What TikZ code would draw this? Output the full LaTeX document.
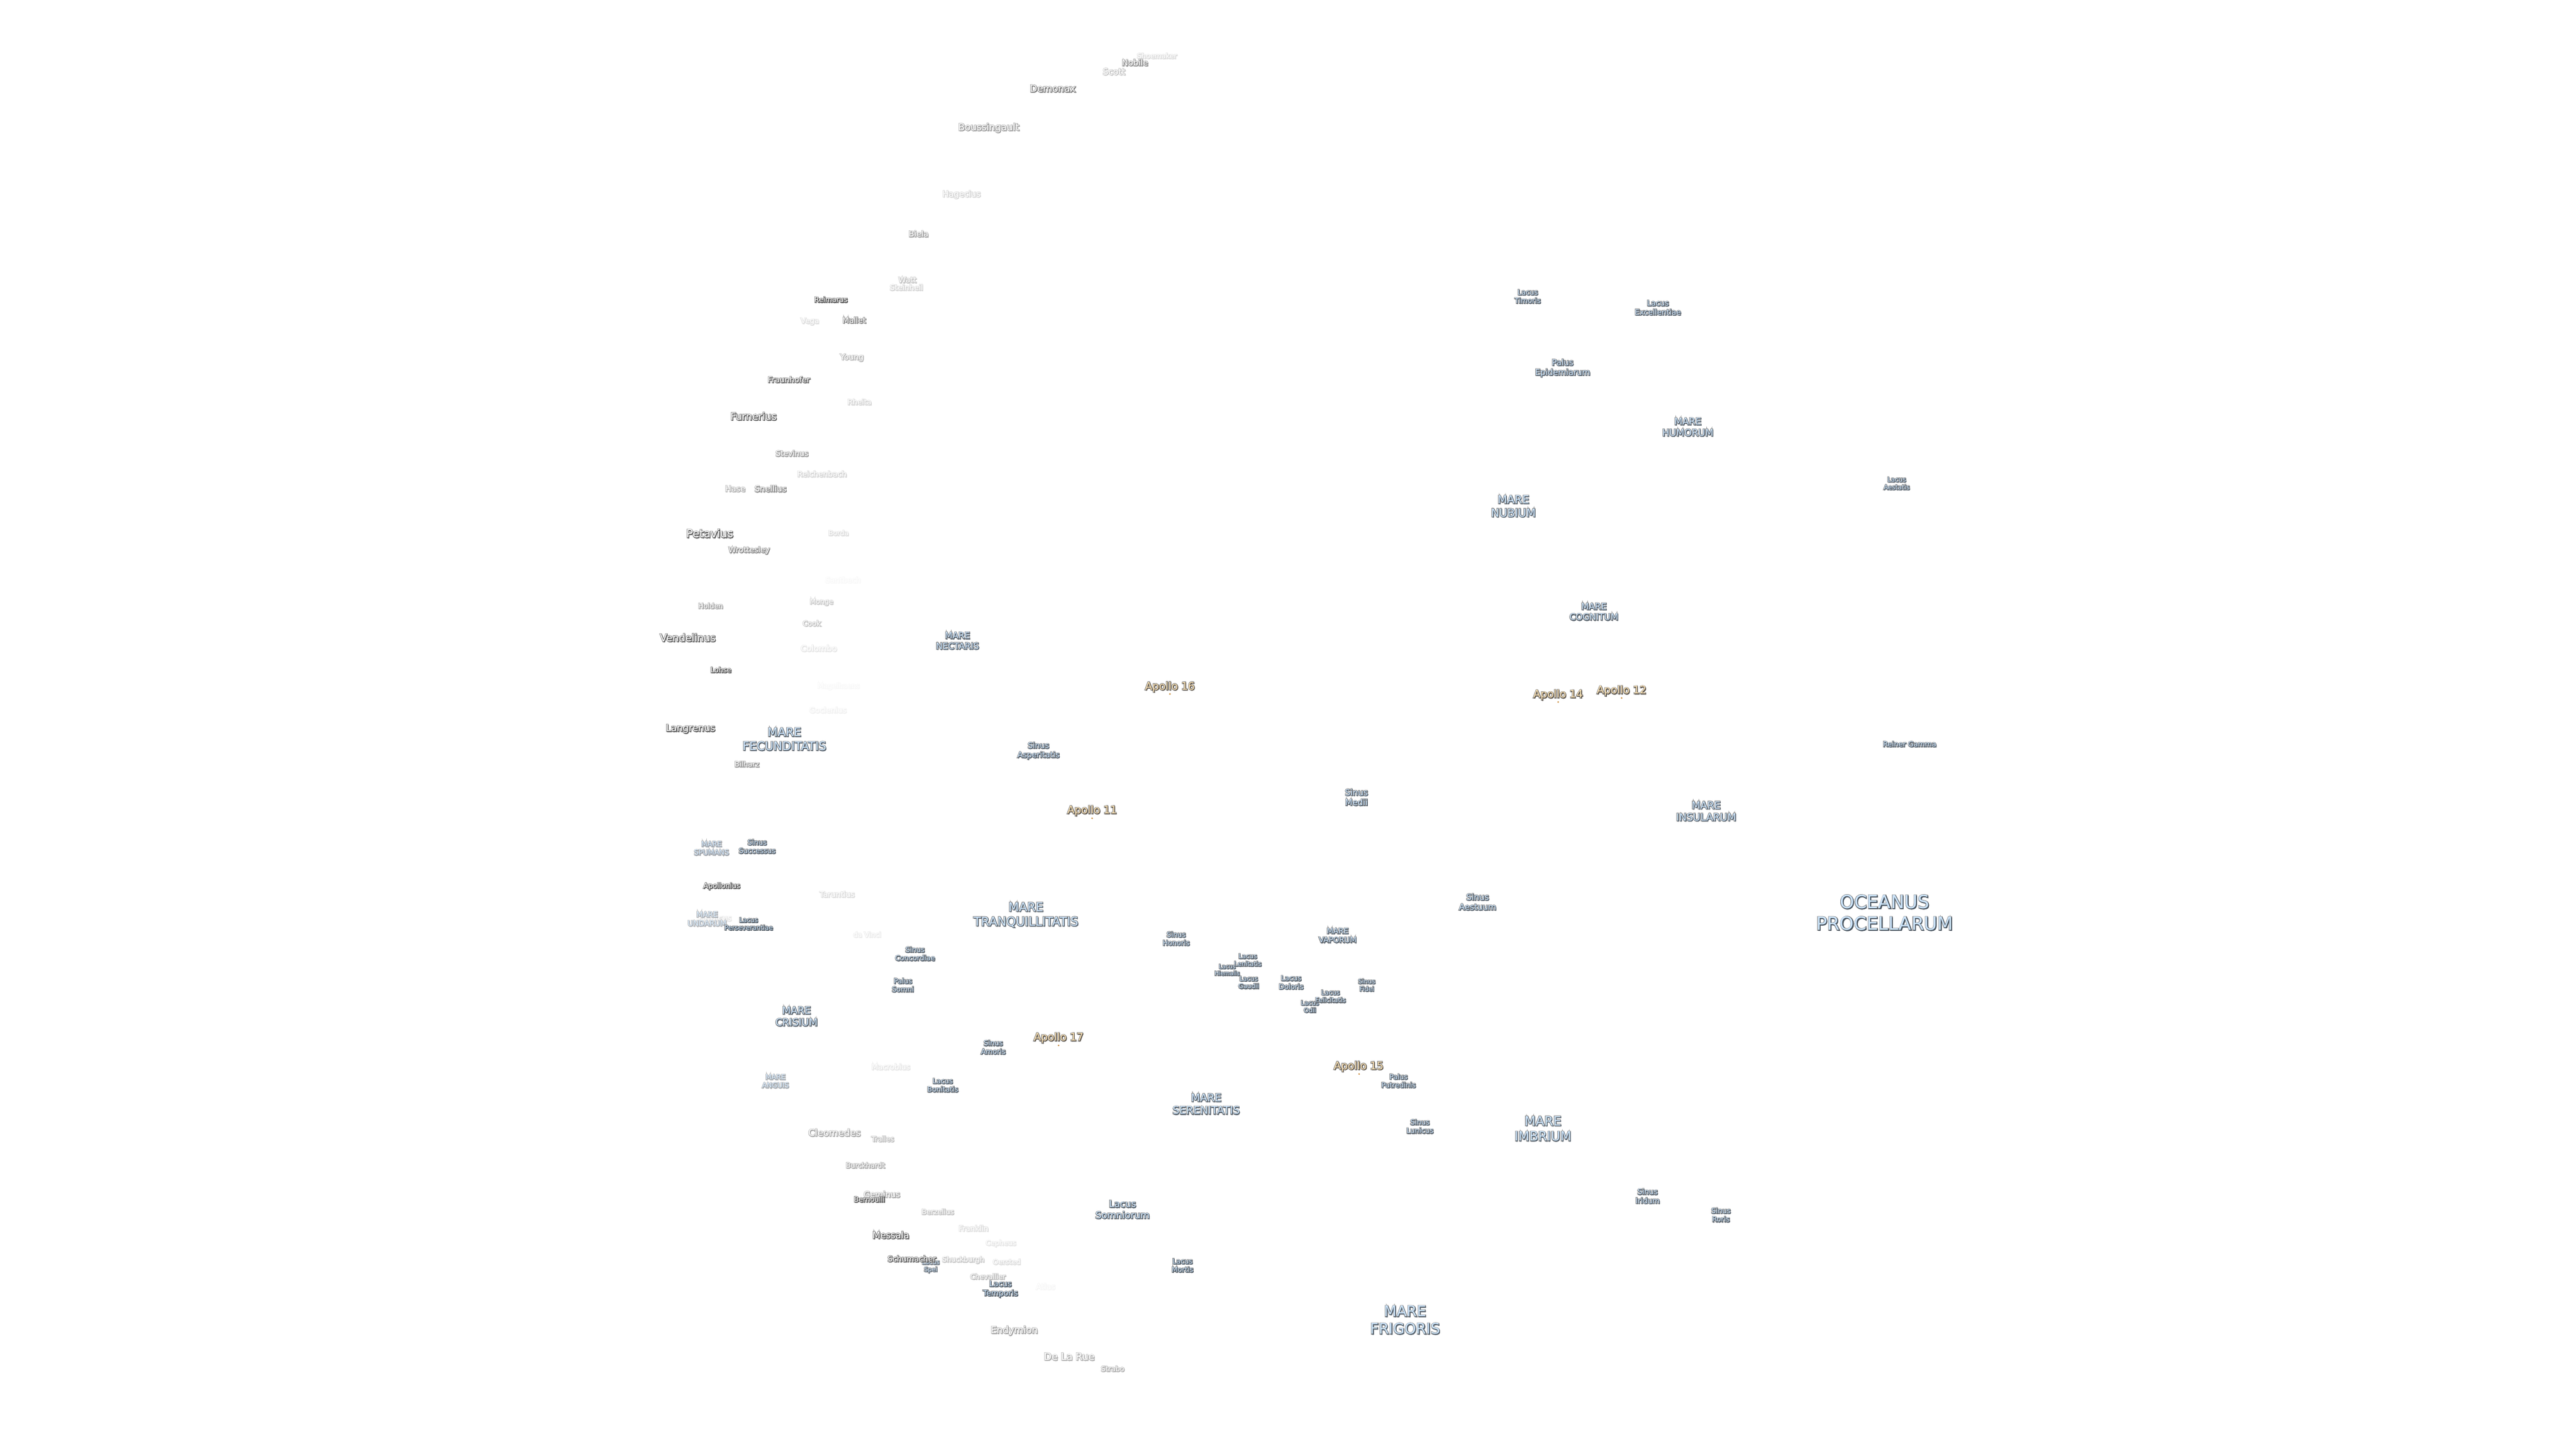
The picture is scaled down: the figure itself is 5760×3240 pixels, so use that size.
\documentclass[tikz,border=0pt]{standalone}
\usepackage{fontspec}
\setmainfont{DejaVu Sans}
\definecolor{FillC}{HTML}{FFFFFF}
\definecolor{FillM}{HTML}{CCE4FB}
\definecolor{FillA}{HTML}{F8DFB2}
\definecolor{ShadeC}{HTML}{454545}
\definecolor{ShadeM}{HTML}{4A5560}
\definecolor{ShadeA}{HTML}{4E4840}
\definecolor{DotC}{HTML}{C98A3A}
\newdimen\LabW
\newcount\LabN
\font\LabMeasure="DejaVu Sans" at 10pt
\tikzset{
  labelnode/.style={inner sep=0pt,outer sep=0pt,align=center},
  sitedot/.style={circle,inner sep=0pt,minimum size=1.1pt,fill=DotC}
}
% class, strength (percent), x, y, width of the widest line in px, line 1, line 2
\newcommand\Lab[7]{%
  \global\advance\LabN by 1 %
  \setbox0\hbox{\LabMeasure #6}%
  \setbox1\hbox{\LabMeasure #7}%
  \ifdim\wd0>\wd1 \LabW=\wd0 \else \LabW=\wd1 \fi
  \pgfmathsetmacro\LabFs{10*(#5-2)*0.28453/\the\LabW}%
  \pgfmathsetmacro\LabLs{1.19*\LabFs}%
  \pgfmathsetmacro\LabHalo{100*3.0*0.28453/\LabFs}%
  \pgfmathsetmacro\LabDark{100*0.9*0.28453/\LabFs}%
  \font\LabHaloFont="DejaVu Sans:embolden=\LabHalo" at \LabFs pt %
  \font\LabDarkFont="DejaVu Sans:embolden=\LabDark" at \LabFs pt %
  \font\LabFrontFont="DejaVu Sans" at \LabFs pt %
  \colorlet{LabH}{gray!#2!white}%
  \colorlet{LabS}{Shade#1!#2!white}%
  \pgfmathsetmacro\LabMix{min(100,#2*1.6)}%
  \colorlet{LabF}{Fill#1!\LabMix!white}%
  \if\relax\detokenize{#7}\relax
    \def\LabBody{#6}%
  \else
    \def\LabBody{#6\\#7}%
  \fi
  \node[labelnode,text=LabH,font={\fontsize{\LabFs pt}{\LabLs pt}\selectfont\LabHaloFont}] (l\the\LabN h) at (#3,#4) {\LabBody};
  \node[labelnode,text=LabS,font={\fontsize{\LabFs pt}{\LabLs pt}\selectfont\LabDarkFont}] (l\the\LabN s) at (#3+1.4,#4+1.4) {\LabBody};
  \node[labelnode,text=LabF,font={\fontsize{\LabFs pt}{\LabLs pt}\selectfont\LabFrontFont}] (l\the\LabN f) at (#3,#4) {\LabBody};
}
\begin{document}
\begin{tikzpicture}[x=0.01cm,y=-0.01cm]
\fill[white] (0,0) rectangle (5760,3240);
\useasboundingbox (0,0) rectangle (5760,3240);
% craters, top
\Lab{C}{18}{2587}{125}{91}{Shoemaker}{}
\Lab{C}{60}{2538}{140}{60}{Nobile}{}
\Lab{C}{32}{2491}{160}{52}{Scott}{}
\Lab{C}{70}{2354}{198}{104}{Demonax}{}
\Lab{C}{52}{2211}{286}{138}{Boussingault}{}
\Lab{C}{22}{2150}{435}{87}{Hagecius}{}
\Lab{C}{48}{2054}{523}{46}{Biela}{}
\Lab{C}{32}{2029}{626}{42}{Watt}{}
\Lab{C}{22}{2027}{643}{76}{Steinheil}{}
\Lab{C}{90}{1858}{670}{76}{Reimarus}{}
\Lab{C}{18}{1811}{719}{43}{Vega}{}
\Lab{C}{65}{1910}{716}{54}{Mallet}{}
\Lab{C}{38}{1905}{800}{54}{Young}{}
\Lab{C}{80}{1764}{849}{96}{Fraunhofer}{}
\Lab{C}{22}{1922}{899}{55}{Rheita}{}
\Lab{C}{85}{1685}{931}{105}{Furnerius}{}
\Lab{C}{50}{1771}{1014}{75}{Stevinus}{}
\Lab{C}{22}{1838}{1060}{112}{Reichenbach}{}
\Lab{C}{42}{1644}{1093}{47}{Hase}{}
\Lab{C}{60}{1723}{1093}{73}{Snellius}{}
\Lab{C}{85}{1587}{1193}{107}{Petavius}{}
\Lab{C}{18}{1875}{1192}{47}{Borda}{}
\Lab{C}{60}{1675}{1231}{94}{Wrottesley}{}
\Lab{C}{4}{1885}{1297}{81}{Santbech}{}
\Lab{C}{28}{1837}{1347}{54}{Monge}{}
\Lab{C}{48}{1589}{1355}{57}{Holden}{}
\Lab{C}{32}{1815}{1394}{42}{Cook}{}
\Lab{C}{85}{1538}{1426}{126}{Vendelinus}{}
\Lab{C}{13}{1831}{1450}{83}{Colombo}{}
\Lab{C}{90}{1612}{1498}{48}{Lohse}{}
\Lab{C}{4}{1875}{1535}{96}{Magelhaens}{}
\Lab{C}{7}{1851}{1588}{85}{Goclenius}{}
\Lab{C}{85}{1544}{1630}{112}{Langrenus}{}
\Lab{C}{55}{1670}{1709}{57}{Bilharz}{}
\Lab{C}{90}{1614}{1982}{84}{Apollonius}{}
\Lab{C}{18}{1872}{2000}{80}{Taruntius}{}
\Lab{C}{10}{1939}{2090}{64}{da Vinci}{}
\Lab{C}{13}{1599}{2053}{75}{Firmicus}{}
\Lab{C}{13}{1992}{2386}{88}{Macrobius}{}
% craters, bottom
\Lab{C}{45}{1866}{2533}{119}{Cleomedes}{}
\Lab{C}{35}{1974}{2547}{52}{Tralles}{}
\Lab{C}{45}{1935}{2606}{89}{Burckhardt}{}
\Lab{C}{45}{1972}{2671}{83}{Geminus}{}
\Lab{C}{90}{1944}{2682}{71}{Bernoulli}{}
\Lab{C}{32}{2097}{2710}{74}{Berzelius}{}
\Lab{C}{18}{2177}{2747}{68}{Franklin}{}
\Lab{C}{85}{1992}{2762}{84}{Messala}{}
\Lab{C}{13}{2238}{2781}{70}{Cepheus}{}
\Lab{C}{28}{2154}{2818}{96}{Shuckburgh}{}
\Lab{C}{18}{2251}{2822}{64}{Oersted}{}
\Lab{M}{80}{2081}{2832}{41}{Lacus}{Spei}
\Lab{C}{85}{2039}{2815}{110}{Schumacher}{}
\Lab{C}{35}{2209}{2855}{81}{Chevallier}{}
\Lab{C}{5}{2338}{2877}{45}{Atlas}{}
\Lab{C}{50}{2268}{2976}{107}{Endymion}{}
\Lab{C}{42}{2391}{3034}{115}{De La Rue}{}
\Lab{C}{42}{2488}{3061}{54}{Strabo}{}
% maria and the like
\Lab{M}{100}{4214}{2041}{308}{OCEANUS}{PROCELLARUM}
\Lab{M}{90}{2141}{1433}{98}{MARE}{NECTARIS}
\Lab{M}{90}{1754}{1653}{189}{MARE}{FECUNDITATIS}
\Lab{M}{55}{1591}{1897}{80}{MARE}{SPUMANS}
\Lab{M}{90}{1693}{1893}{84}{Sinus}{Successus}
\Lab{M}{90}{2294}{2046}{236}{MARE}{TRANQUILLITATIS}
\Lab{M}{45}{1581}{2055}{89}{MARE}{UNDARUM}
\Lab{M}{95}{1674}{2066}{110}{Lacus}{Perseverantiae}
\Lab{M}{90}{2046}{2133}{91}{Sinus}{Concordiae}
\Lab{M}{90}{2019}{2203}{51}{Palus}{Somni}
\Lab{M}{90}{1781}{2273}{96}{MARE}{CRISIUM}
\Lab{M}{90}{2221}{2342}{57}{Sinus}{Amoris}
\Lab{M}{50}{1734}{2418}{62}{MARE}{ANGUIS}
\Lab{M}{90}{2108}{2427}{71}{Lacus}{Bonitatis}
\Lab{M}{90}{2510}{2705}{123}{Lacus}{Somniorum}
\Lab{M}{95}{2237}{2883}{80}{Lacus}{Temporis}
\Lab{M}{95}{2644}{2830}{50}{Lacus}{Mortis}
\Lab{M}{90}{2630}{2099}{62}{Sinus}{Honoris}
\Lab{M}{90}{2991}{2092}{86}{MARE}{VAPORUM}
\Lab{M}{90}{2790}{2147}{63}{Lacus}{Lenitatis}
\Lab{M}{90}{2744}{2169}{58}{Lacus}{Hiemalis}
\Lab{M}{90}{2792}{2197}{48}{Lacus}{Gaudii}
\Lab{M}{90}{2887}{2197}{57}{Lacus}{Doloris}
\Lab{M}{90}{3056}{2203}{40}{Sinus}{Fidei}
\Lab{M}{90}{2929}{2251}{42}{Lacus}{Odii}
\Lab{M}{90}{2975}{2228}{70}{Lacus}{Felicitatis}
\Lab{M}{90}{3127}{2417}{79}{Palus}{Putredinis}
\Lab{M}{90}{2697}{2469}{152}{MARE}{SERENITATIS}
\Lab{M}{90}{3416}{663}{60}{Lacus}{Timoris}
\Lab{M}{90}{3707}{688}{105}{Lacus}{Excellentiae}
\Lab{M}{90}{3494}{823}{125}{Palus}{Epidemiarum}
\Lab{M}{90}{3774}{955}{116}{MARE}{HUMORUM}
\Lab{M}{90}{4241}{1081}{60}{Lacus}{Aestatis}
\Lab{M}{90}{3384}{1132}{102}{MARE}{NUBIUM}
\Lab{M}{90}{3564}{1368}{111}{MARE}{COGNITUM}
\Lab{M}{90}{2322}{1679}{96}{Sinus}{Asperitatis}
\Lab{M}{90}{3033}{1783}{53}{Sinus}{Medii}
\Lab{M}{90}{4270}{1664}{121}{Reiner Gamma}{}
\Lab{M}{90}{3815}{1814}{136}{MARE}{INSULARUM}
\Lab{M}{90}{3304}{2017}{85}{Sinus}{Aestuum}
\Lab{M}{90}{3175}{2519}{62}{Sinus}{Lunicus}
\Lab{M}{90}{3450}{2524}{129}{MARE}{IMBRIUM}
\Lab{M}{90}{3684}{2675}{56}{Sinus}{Iridum}
\Lab{M}{90}{3848}{2717}{45}{Sinus}{Roris}
\Lab{M}{90}{3142}{2952}{158}{MARE}{FRIGORIS}
% Apollo sites
\Lab{A}{90}{2616}{1536}{113}{Apollo 16}{}
\Lab{A}{90}{3484}{1554}{113}{Apollo 14}{}
\Lab{A}{90}{3626}{1545}{113}{Apollo 12}{}
\Lab{A}{90}{2442}{1813}{113}{Apollo 11}{}
\Lab{A}{90}{2367}{2321}{113}{Apollo 17}{}
\Lab{A}{90}{3038}{2385}{113}{Apollo 15}{}
\node[sitedot] (d16) at (2616,1552) {};
\node[sitedot] (d14) at (3484,1570) {};
\node[sitedot] (d12) at (3626,1561) {};
\node[sitedot] (d11) at (2442,1830) {};
\node[sitedot] (d17) at (2367,2338) {};
\node[sitedot] (d15) at (3039,2402) {};
\end{tikzpicture}
\end{document}
